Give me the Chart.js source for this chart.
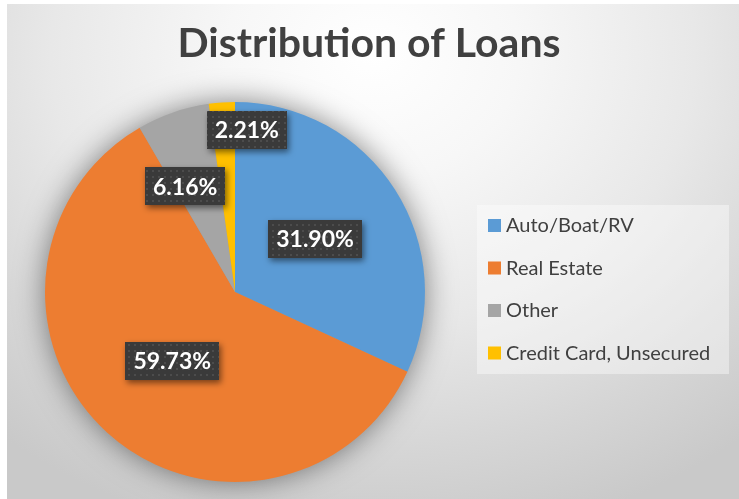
<!DOCTYPE html>
<html>
<head>
<meta charset="utf-8">
<script src="https://cdn.jsdelivr.net/npm/chart.js@4.4.0/dist/chart.umd.min.js"></script>
<style>
  html, body { margin: 0; padding: 0; background: #fff; }
  #frame {
    position: absolute; left: 7px; top: 4px; width: 732px; height: 495px;
    background: radial-gradient(ellipse 80% 100% at 50% 10%, #ffffff 0%, #f7f7f7 25%, #e8e8e8 55%, #d6d6d6 80%, #c9c9c9 100%);
  }
  #wrap { position: absolute; left: 0; top: 0; width: 739px; height: 499px; }
</style>
</head>
<body>
<div id="frame"></div>
<div id="wrap"><canvas id="loans"></canvas></div>
<script>
const chart_title = 'Distribution of Loans'
const categories = ['Auto/Boat/RV', 'Real Estate', 'Other', 'Credit Card, Unsecured']
const shares = [31.90, 59.73, 6.16, 2.21]
const colors = ['#5B9BD5', '#ED7D31', '#A5A5A5', '#FFC000']

// dark dotted fill used behind the data labels
function dot_pattern(ctx) {
    let c = document.createElement('canvas')
    c.width = 6
    c.height = 6
    let p = c.getContext('2d')
    p.fillStyle = '#3a3a3a'
    p.fillRect(0, 0, 6, 6)
    p.fillStyle = '#4c4c4c'
    p.fillRect(2, 2, 2, 2)
    return ctx.createPattern(c, 'repeat')
}

const pieShadow = {
    id: 'pieShadow',
    beforeDatasetsDraw(chart) {
        let arc = chart.getDatasetMeta(0).data[0]
        if (!arc) return
        let ctx = chart.ctx
        ctx.save()
        ctx.shadowColor = 'rgba(0,0,0,0.5)'
        ctx.shadowBlur = 30
        ctx.fillStyle = '#999'
        ctx.beginPath()
        ctx.arc(arc.x, arc.y, arc.outerRadius - 1, 0, Math.PI * 2)
        ctx.fill()
        ctx.restore()
    }
}

const boxLabels = {
    id: 'boxLabels',
    afterDatasetsDraw(chart, args, opts) {
        let ctx = chart.ctx
        let meta = chart.getDatasetMeta(0)
        let fill = dot_pattern(ctx)
        ctx.save()
        ctx.font = 'bold 23px Lato'
        ctx.textAlign = 'center'
        ctx.textBaseline = 'middle'
        meta.data.forEach((arc, i) => {
            let mid = (arc.startAngle + arc.endAngle) / 2
            let r = arc.outerRadius * opts.radial[i]
            let x = arc.x + Math.cos(mid) * r + opts.nudge[i][0]
            let y = arc.y + Math.sin(mid) * r + opts.nudge[i][1]
            let text = chart.data.datasets[0].data[i].toFixed(2) + '%'
            let w = ctx.measureText(text).width + 16
            let h = 38
            ctx.save()
            ctx.shadowColor = 'rgba(0,0,0,0.5)'
            ctx.shadowBlur = 6
            ctx.shadowOffsetX = 2
            ctx.shadowOffsetY = 3
            ctx.fillStyle = fill
            ctx.fillRect(Math.round(x - w / 2), Math.round(y - h / 2), Math.round(w), h)
            ctx.restore()
            ctx.fillStyle = '#ffffff'
            ctx.fillText(text, x, y + 1)
        })
        ctx.restore()
    }
}

const boxTitle = {
    id: 'boxTitle',
    afterDraw(chart, args, opts) {
        let ctx = chart.ctx
        ctx.save()
        ctx.font = 'bold 41px Lato'
        ctx.fillStyle = '#404040'
        ctx.textAlign = 'center'
        ctx.textBaseline = 'alphabetic'
        ctx.fillText(opts.text, opts.x, opts.baseline)
        ctx.restore()
    }
}

const boxLegend = {
    id: 'boxLegend',
    afterDraw(chart, args, opts) {
        let ctx = chart.ctx
        ctx.save()
        ctx.fillStyle = 'rgba(255,255,255,0.4)'
        ctx.fillRect(opts.left, opts.top, opts.width, opts.height)
        ctx.font = '20px Lato'
        ctx.textBaseline = 'middle'
        chart.data.labels.forEach((label, i) => {
            let y = opts.top + opts.firstRow + i * opts.rowGap
            ctx.fillStyle = chart.data.datasets[0].backgroundColor[i]
            ctx.fillRect(opts.left + 11, y - 6, 13, 13)
            ctx.fillStyle = '#404040'
            ctx.fillText(label, opts.left + 29, y + 1)
        })
        ctx.restore()
    }
}

new Chart(document.getElementById('loans'), {
    type: 'pie',
    data: {
        labels: categories,
        datasets: [{
            data: shares,
            backgroundColor: colors,
            borderWidth: 0
        }]
    },
    options: {
        responsive: true,
        maintainAspectRatio: false,
        animation: false,
        layout: { padding: { left: 45, right: 314, bottom: 17, top: 102 } },
        plugins: {
            legend: { display: false },
            tooltip: { enabled: false },
            title: { display: false },
            boxTitle: { text: chart_title, x: 369, baseline: 57 },
            boxLabels: {
                radial: [0.5, 0.49, 0.61, 0.85],
                nudge: [[0, -2], [0, 0], [-12, 4], [23, -1]]
            },
            boxLegend: { left: 477, top: 205, width: 252, height: 169, firstRow: 20, rowGap: 42.5 }
        }
    },
    plugins: [pieShadow, boxLabels, boxTitle, boxLegend]
})
</script>
</body>
</html>
